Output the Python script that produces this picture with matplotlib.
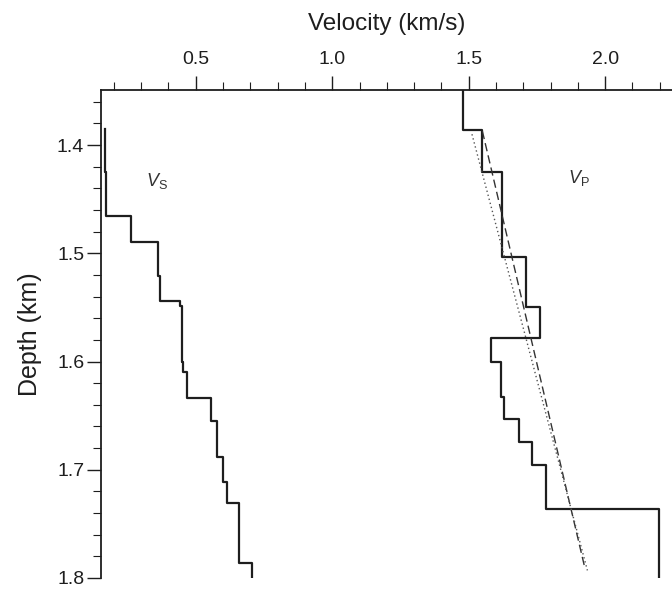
import numpy as np
import matplotlib.pyplot as plt
from matplotlib.ticker import MultipleLocator

# layer boundaries (km) and velocities (km/s)
vs_depth = [1.385, 1.425, 1.466, 1.490, 1.521, 1.544, 1.549, 1.600, 1.610,
            1.634, 1.655, 1.688, 1.711, 1.731, 1.786, 1.800]
vs_vel = [0.169, 0.172, 0.262, 0.361, 0.368, 0.441, 0.449, 0.455, 0.467,
          0.555, 0.577, 0.599, 0.614, 0.657, 0.705]

vp_depth = [1.349, 1.386, 1.425, 1.503, 1.550, 1.578, 1.600, 1.633, 1.653,
            1.674, 1.696, 1.736, 1.799]
vp_vel = [1.478, 1.547, 1.623, 1.711, 1.763, 1.581, 1.620, 1.628, 1.683,
          1.731, 1.785, 2.196]

# straight-line fits through the P profile
dash_vel = [1.550, 1.925]
dash_depth = [1.387, 1.790]
dot_vel = [1.512, 1.935]
dot_depth = [1.390, 1.793]

x_ticks = [0.5, 1.0, 1.5, 2.0]
y_ticks = [1.4, 1.5, 1.6, 1.7, 1.8]


def layer_points(depth, vel):
    xs, ys = [], []
    for i, v in enumerate(vel):
        xs += [v, v]
        ys += [depth[i], depth[i + 1]]
    return np.array(xs), np.array(ys)


plt.rcParams['font.family'] = ['Liberation Sans', 'DejaVu Sans']
plt.rcParams['mathtext.fontset'] = 'custom'
plt.rcParams['mathtext.rm'] = 'Liberation Sans'
plt.rcParams['mathtext.it'] = 'Liberation Sans:italic'

fig = plt.figure(figsize=(6.72, 5.91), dpi=100)
ax = fig.add_axes([0.150, 0.022, 0.850, 0.826])

ink = '#1e1e1e'
x, y = layer_points(vs_depth, vs_vel)
ax.plot(x, y, color=ink, lw=1.6)
x, y = layer_points(vp_depth, vp_vel)
ax.plot(x, y, color=ink, lw=1.6)
ax.plot(dash_vel, dash_depth, color='#333333', lw=1.0, ls=(0, (6, 3)))
ax.plot(dot_vel, dot_depth, color='#555555', lw=1.0, ls=(0, (1, 2)))

ax.text(0.357, 1.433, r'$V_\mathrm{S}$', fontsize=13, color='#333333',
        ha='center', va='center')
ax.text(1.903, 1.430, r'$V_\mathrm{P}$', fontsize=13, color='#333333',
        ha='center', va='center')

ax.set_xlim(0.152, 2.245)
ax.set_ylim(1.8, 1.349)

ax.xaxis.tick_top()
ax.xaxis.set_label_position('top')
ax.set_xticks(x_ticks)
ax.set_xticklabels([f'{t:.1f}' for t in x_ticks])
ax.xaxis.set_minor_locator(MultipleLocator(0.1))
ax.set_yticks(y_ticks)
ax.set_yticklabels([f'{t:.1f}' for t in y_ticks])
ax.yaxis.set_minor_locator(MultipleLocator(0.02))

ax.tick_params(which='major', direction='out', length=10, width=1.0,
               labelsize=14, colors=ink)
ax.tick_params(which='minor', direction='out', length=5.5, width=0.8,
               colors=ink)
ax.tick_params(axis='x', which='major', pad=6)
ax.tick_params(axis='y', which='major', pad=2)

ax.set_xlabel('Velocity (km/s)', fontsize=17.5, labelpad=15, color=ink)
ax.set_ylabel('Depth (km)', fontsize=18, labelpad=11, color=ink)

for side in ['right', 'bottom']:
    ax.spines[side].set_visible(False)
for side in ['left', 'top']:
    ax.spines[side].set_linewidth(1.3)
    ax.spines[side].set_color(ink)

fig.savefig('out.png', dpi=100)
